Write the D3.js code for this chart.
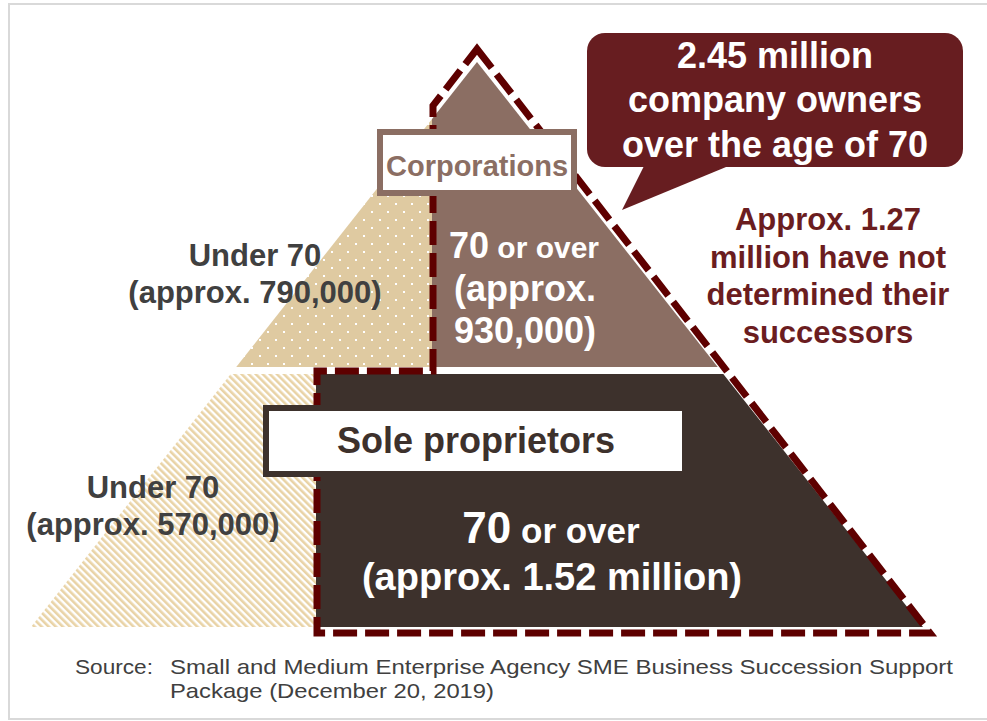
<!DOCTYPE html>
<html>
<head>
<meta charset="utf-8">
<script src="https://cdn.jsdelivr.net/npm/d3@7"></script>
<style>
  html, body { margin: 0; padding: 0; background: #ffffff; }
  svg { display: block; }
  text { font-family: "Liberation Sans", Arial, Helvetica, sans-serif; }
</style>
</head>
<body>
<svg id="chart" width="987" height="721"></svg>
<script>
// ---- Data -------------------------------------------------------------
const tiers = ["Corporations", "Sole proprietors"];
const under70 = [790000, 570000];      // owners under 70, per tier
const over70 = [930000, 1520000];      // owners 70 or over, per tier
const undetermined = 1270000;          // 70+ owners without a successor
const sourceLines = [
  "Small and Medium Enterprise Agency SME Business Succession Support",
  "Package (December 20, 2019)"
];

// ---- Formatting helpers ------------------------------------------------
const fmtInt = d3.format(",");
const fmtMillion = v => d3.format(".2f")(v / 1e6);
const totalOver70 = d3.sum(over70);

// ---- Layout -----------------------------------------------------------
const W = 987, H = 721;
const colors = {
  dotted: "#dfcaa1",
  hatch: "#e9d3a6",
  corp: "#8b6e63",
  sole: "#3d312c",
  dash: "#5e0000",
  callout: "#671d20",
  note: "#6b1d1f",
  label: "#404040",
  frame: "#d9d9d9"
};

const svg = d3.select("#chart");

// Pyramid scales: depth t (0 = apex, 1 = base) and signed side position
const y = d3.scaleLinear().domain([0, 1]).range([62, 627]);
const x = d3.scaleLinear().domain([-1, 1]).range([31, 923]);
// Outline (dashed) pyramid sits slightly outside the filled one
const yo = d3.scaleLinear().domain([0, 1]).range([49, 633]);
const xo = d3.scaleLinear().domain([-1, 1]).range([24, 930]);

const tierTop = [0, y.invert(374)];          // depth where each tier starts
const tierBottom = [y.invert(367), 1];       // depth where each tier ends
const splitX = [432, 316];                   // under-70 / 70+ boundary per tier
const dashGapY = 371;

// depth at which the left edge reaches a given x
const leftDepth = (px, xs) => -xs.invert(px);

// ---- Patterns -----------------------------------------------------------
const defs = svg.append("defs");
const dots = defs.append("pattern")
  .attr("id", "dots").attr("patternUnits", "userSpaceOnUse")
  .attr("width", 16).attr("height", 16);
dots.append("rect").attr("width", 16).attr("height", 16).attr("fill", colors.dotted);
[[4, 4], [12, 12]].forEach(([cx, cy]) =>
  dots.append("rect").attr("x", cx - 1).attr("y", cy - 1)
    .attr("width", 2).attr("height", 2).attr("fill", "#ffffff"));

const hatch = defs.append("pattern")
  .attr("id", "hatch").attr("patternUnits", "userSpaceOnUse")
  .attr("width", 5).attr("height", 5)
  .attr("patternTransform", "rotate(-45)");
hatch.append("rect").attr("width", 5).attr("height", 5).attr("fill", "#ffffff");
hatch.append("rect").attr("width", 2.6).attr("height", 5).attr("fill", colors.hatch);

// ---- Frame --------------------------------------------------------------
svg.append("rect")
  .attr("x", 9).attr("y", 4).attr("width", 990).attr("height", 715)
  .attr("fill", "none").attr("stroke", colors.frame).attr("stroke-width", 2);

// ---- Pyramid sections ------------------------------------------------------
const line = d3.line();
const segments = [];
tiers.forEach((tier, i) => {
  const t0 = tierTop[i], t1 = tierBottom[i], sx = splitX[i];
  const tSplit = Math.max(t0, leftDepth(sx, x));
  // left part: under 70
  const left = [
    [x(-t1), y(t1)], [sx, y(t1)], [sx, y(tSplit)]
  ];
  if (t0 > 0) left.push([x(-t0), y(t0)]);
  if (t0 > 0 && tSplit > t0) left.splice(2, 1, [sx, y(t0)]);
  // right part: 70 or over
  const right = t0 === 0
    ? [[sx, y(tSplit)], [x(0), y(0)], [x(t1), y(t1)], [sx, y(t1)]]
    : [[sx, y(t0)], [x(t0), y(t0)], [x(t1), y(t1)], [sx, y(t1)]];
  segments.push({ tier, part: "under", pts: left, fill: i === 0 ? "url(#dots)" : "url(#hatch)" });
  segments.push({ tier, part: "over", pts: right, fill: i === 0 ? colors.corp : colors.sole });
});

svg.append("g").selectAll("path")
  .data(segments)
  .join("path")
  .attr("d", d => line(d.pts) + "Z")
  .attr("fill", d => d.fill);

// ---- Dashed outline around all 70+ owners --------------------------------
const corpSplitOuter = splitX[0] + 1;
const outline = [
  [xo(0), yo(0)],
  [xo(1), yo(1)],
  [splitX[1] + 1, yo(1)],
  [splitX[1] + 1, dashGapY],
  [corpSplitOuter, dashGapY],
  [corpSplitOuter, yo(leftDepth(corpSplitOuter, xo))]
];
svg.append("path")
  .attr("d", line(outline) + "Z")
  .attr("fill", "none")
  .attr("stroke", colors.dash)
  .attr("stroke-width", 7)
  .attr("stroke-dasharray", "24 8")
  .attr("stroke-linejoin", "miter");

// ---- Tier name boxes ----------------------------------------------------------
const boxes = [
  { name: tiers[0], x: 380, y: 132, w: 194, h: 61, stroke: colors.corp, size: 29, tx: 477, ty: 176 },
  { name: tiers[1], x: 266, y: 408, w: 419, h: 66, stroke: colors.sole, size: 36, tx: 476, ty: 453 }
];
const boxG = svg.append("g").selectAll("g").data(boxes).join("g");
boxG.append("rect")
  .attr("x", d => d.x).attr("y", d => d.y)
  .attr("width", d => d.w).attr("height", d => d.h)
  .attr("fill", "#ffffff").attr("stroke", d => d.stroke).attr("stroke-width", 6);
boxG.append("text")
  .attr("x", d => d.tx).attr("y", d => d.ty)
  .attr("text-anchor", "middle")
  .attr("font-weight", "bold")
  .attr("font-size", d => d.size)
  .attr("fill", d => d.stroke)
  .text(d => d.name);

// ---- Labels --------------------------------------------------------------
function lines(g, cx, baselines, texts, size, fill) {
  texts.forEach((t, i) => {
    g.append("text")
      .attr("x", cx).attr("y", baselines[i])
      .attr("text-anchor", "middle")
      .attr("font-weight", "bold")
      .attr("font-size", size)
      .attr("fill", fill)
      .text(t);
  });
}
function overLabel(g, cx, by, bigSize, smallSize) {
  const t = g.append("text")
    .attr("x", cx).attr("y", by)
    .attr("text-anchor", "middle")
    .attr("font-weight", "bold")
    .attr("fill", "#ffffff");
  t.append("tspan").attr("font-size", bigSize).text("70");
  t.append("tspan").attr("font-size", smallSize).text(" or over");
}

const labels = svg.append("g");
// Corporations
lines(labels, 255, [266, 303], ["Under 70", `(approx. ${fmtInt(under70[0])})`], 31, colors.label);
overLabel(labels, 524, 258, 36, 30);
lines(labels, 525, [301, 343], ["(approx.", `${fmtInt(over70[0])})`], 36, "#ffffff");
// Sole proprietors
lines(labels, 153, [498, 535], ["Under 70", `(approx. ${fmtInt(under70[1])})`], 31, colors.label);
overLabel(labels, 551, 543, 44, 35);
lines(labels, 552, [590], [`(approx. ${fmtMillion(over70[1])} million)`], 38, "#ffffff");

// Successor note
lines(labels, 828, [230, 268, 305, 343],
  [`Approx. ${fmtMillion(undetermined)}`, "million have not", "determined their", "successors"],
  31, colors.note);

// ---- Callout -----------------------------------------------------------
const callout = svg.append("g");
callout.append("rect")
  .attr("x", 587).attr("y", 33).attr("width", 376).attr("height", 134)
  .attr("rx", 18).attr("fill", colors.callout);
callout.append("path")
  .attr("d", line([[647, 160], [743, 160], [622, 210]]) + "Z")
  .attr("fill", colors.callout);
lines(callout, 775, [68, 112, 157],
  [`${fmtMillion(totalOver70)} million`, "company owners", "over the age of 70"],
  36, "#ffffff");

// ---- Source ----------------------------------------------------------------
const src = svg.append("g").attr("fill", colors.label).attr("font-size", 21);
src.append("text").attr("x", 75).attr("y", 674)
  .attr("textLength", 78).attr("lengthAdjust", "spacingAndGlyphs").text("Source:");
src.append("text").attr("x", 170).attr("y", 674)
  .attr("textLength", 783).attr("lengthAdjust", "spacingAndGlyphs").text(sourceLines[0]);
src.append("text").attr("x", 170).attr("y", 698)
  .attr("textLength", 324).attr("lengthAdjust", "spacingAndGlyphs").text(sourceLines[1]);
</script>
</body>
</html>
